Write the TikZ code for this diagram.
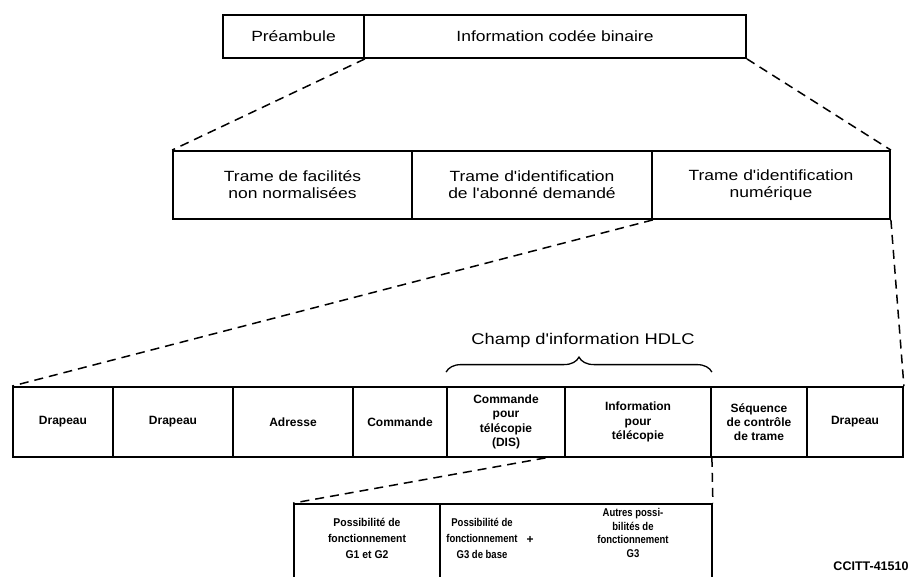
\documentclass[tikz,border=0pt]{standalone}
\usepackage{fontspec}
\setmainfont{Liberation Sans}
\newfontfamily\widefont[FakeStretch=1.18]{Liberation Sans}
\newfontfamily\condfont[FakeStretch=0.92]{Liberation Sans}
\newfontfamily\narrowfont[FakeStretch=0.84]{Liberation Sans}
\usetikzlibrary{decorations.pathreplacing,calc}
\tikzset{
  cell/.style={draw, line width=1.8pt, inner sep=0pt, align=center},
  bigtext/.style={font=\widefont\fontsize{14.8}{17}\selectfont},
  boldtext/.style={font=\bfseries\fontsize{12}{14.3}\selectfont},
  boldtextb/.style={font=\condfont\bfseries\fontsize{11.3}{16}\selectfont},
  boldtextn/.style={font=\narrowfont\bfseries\fontsize{11.3}{16}\selectfont},
  boldtextc/.style={font=\narrowfont\bfseries\fontsize{11.3}{13.5}\selectfont},
  dashline/.style={line width=1.5pt, dash pattern=on 9pt off 6pt},
  plain/.style={inner sep=0pt, align=center}
}
\begin{document}
\begin{tikzpicture}[x=1pt,y=-1pt]
\useasboundingbox[fill=white] (0,0) rectangle (913,576);

% top row
\node[cell,bigtext,minimum width=141pt,minimum height=43pt] (pre) at (293.5,36.5) {Préambule};
\node[cell,bigtext,minimum width=382pt,minimum height=43pt] (info) at (555,36.5) {Information codée binaire};

% second row
\node[cell,bigtext,minimum width=239pt,minimum height=68pt] (ra) at (292.5,185) {Trame de facilités\\non normalisées};
\node[cell,bigtext,minimum width=240pt,minimum height=68pt] (rb) at (532,185) {Trame d'identification\\de l'abonné demandé};
\node[cell,bigtext,minimum width=238pt,minimum height=68pt] (rc) at (771,185) {Trame d'identification\\numérique};

% third row
\node[cell,boldtext,minimum width=100pt,minimum height=70pt] (ta) at (63,422) {Drapeau};
\node[cell,boldtext,minimum width=120pt,minimum height=70pt] (tb) at (173,422) {Drapeau};
\node[cell,boldtext,minimum width=120pt,minimum height=70pt] (tc) at (293,422) {Adresse};
\node[cell,boldtext,minimum width=94pt,minimum height=70pt] (td) at (400,422) {Commande};
\node[cell,boldtext,minimum width=118pt,minimum height=70pt] (te) at (506,422) {Commande\\pour\\télécopie\\(DIS)};
\node[cell,boldtext,minimum width=146pt,minimum height=70pt] (tf) at (638,422) {Information\\pour\\télécopie};
\node[cell,boldtext,minimum width=96pt,minimum height=70pt] (tg) at (759,422) {Séquence\\de contrôle\\de trame};
\node[cell,boldtext,minimum width=96pt,minimum height=70pt] (th) at (855,422) {Drapeau};

% brace
\coordinate (bl) at (te.north west);
\coordinate (br) at (tf.north east);
\draw[decorate, decoration={brace, amplitude=15pt}, line width=1.3pt] ($(bl)+(0,-14)$) -- ($(br)+(0,-14)$);
\node[plain,font=\widefont\fontsize{15.5}{17}\selectfont] (champ) at (583,340) {Champ d'information HDLC};

% bottom box
\node[cell,minimum width=146pt,minimum height=76pt] (ba) at (367,542) {};
\node[cell,minimum width=272pt,minimum height=76pt] (bb) at (576,542) {};
\node[plain,boldtextb] (bal) at (367,538) {Possibilité de\\fonctionnement\\G1 et G2};
\node[plain,boldtextn] (bbl) at (482,538) {Possibilité de\\fonctionnement\\G3 de base};
\node[plain,font=\bfseries\fontsize{12}{14}\selectfont] (plus) at (530,540) {+};
\node[plain,boldtextc] (bbr) at (633,533) {Autres possi-\\bilités de\\fonctionnement\\G3};

% dashed connectors
\draw[dashline] (pre.south east) -- (ra.north west);
\draw[dashline] (info.south east) -- (rc.north east);
\draw[dashline] (rb.south east) -- (ta.north west);
\draw[dashline] (rc.south east) -- (th.north east);
\coordinate (dis) at ($(te.south west)!0.83!(te.south east)$);
\draw[dashline] (dis) -- (ba.north west);
\draw[dashline] (tf.south east) -- (bb.north east);

% reference label
\node[plain,font=\bfseries\fontsize{12.5}{14}\selectfont] (ref) at (871,566) {CCITT-41510};
\end{tikzpicture}
\end{document}
